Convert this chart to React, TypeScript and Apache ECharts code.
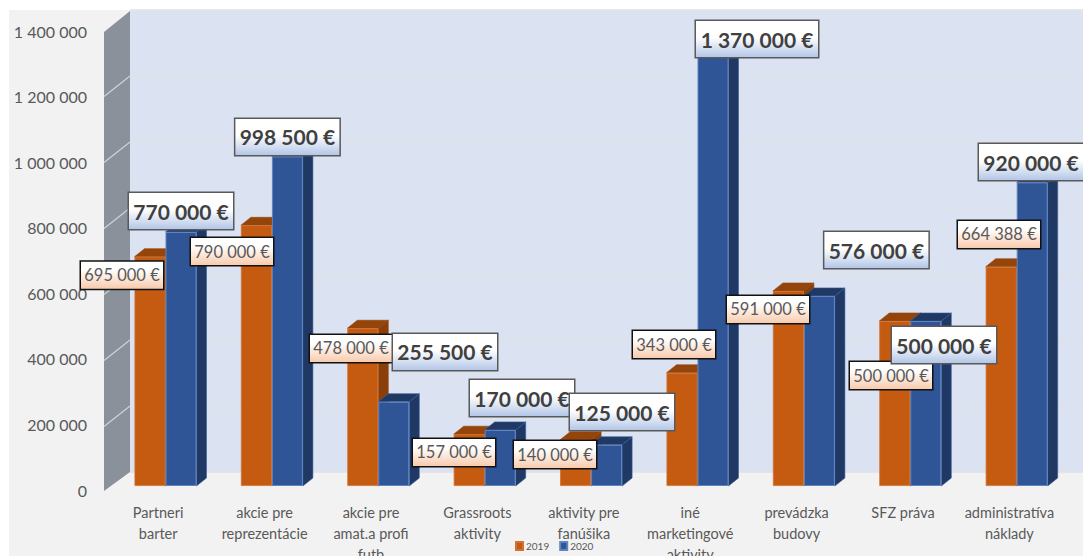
import React, { useEffect, useRef } from "react";
import * as echarts from "echarts";

const categories = [
  "Partneri\nbarter",
  "akcie pre\nreprezentácie",
  "akcie pre\namat.a profi\nfutb",
  "Grassroots\naktivity",
  "aktivity pre\nfanúšika",
  "iné\nmarketingové\naktivity",
  "prevádzka\nbudovy",
  "SFZ práva",
  "administratíva\nnáklady",
];
const values2019 = [695000, 790000, 478000, 157000, 140000, 343000, 591000, 500000, 664388];
const values2020 = [770000, 998500, 255500, 170000, 125000, 1370000, 576000, 500000, 920000];
const wallTicks = [200000, 400000, 600000, 800000, 1000000, 1200000];

// Hand-placed data label offsets, relative to the top of each bar
const offsets2019 = [[-28, 32], [-24.4, 39.7], [-11.8, 33.7], [-15.2, 31.8], [-20.6, 28.2], [-8, -14.8], [-20.4, 32], [-3.8, 68], [-2.2, -18.8]];
const offsets2020 = [[0, -2.9], [0, -1.5], [51.2, -31.7], [21.8, -13.9], [15.4, -14.75], [44, 23.1], [57, -27.9], [18.2, 42], [-1.2, -2.4]];

const FONT = "Lato";
const BAR_W = 31;
const DX = 10;
const DY = 8;

const euro = (v: number) => String(v).replace(/\B(?=(\d{3})+(?!\d))/g, " ") + " €";
const spaced = (v: number) => String(v).replace(/\B(?=(\d{3})+(?!\d))/g, " ");

const grad = (mid: number, end: string) =>
  new echarts.graphic.LinearGradient(0, 0, 0, 1, [
    { offset: 0, color: "#ffffff" },
    { offset: mid, color: "#ffffff" },
    { offset: 1, color: end },
  ]);

const extrude = (x0: number, x1: number, yTop: number, yBase: number, top: string, side: string, stroke: string) => ({
  type: "group",
  children: [
    {
      type: "polygon",
      shape: { points: [[x1, yBase], [x1 + DX, yBase - DY], [x1 + DX, yTop - DY], [x1, yTop]] },
      style: { fill: side, stroke, lineWidth: 0.6 },
    },
    {
      type: "polygon",
      shape: { points: [[x0, yTop], [x0 + DX, yTop - DY], [x1 + DX, yTop - DY], [x1, yTop]] },
      style: { fill: top, stroke, lineWidth: 0.6 },
    },
  ],
});

export default function App() {
  const ref = useRef<HTMLDivElement>(null);
  useEffect(() => {
    const chart = echarts.init(ref.current!, undefined, { renderer: "svg" });
    const cell = 106.4;
    const gridW = cell * 9;

    const hiddenCat = (gridIndex: number) => ({
      type: "category" as const,
      gridIndex,
      data: categories,
      show: false,
    });
    const hiddenVal = (gridIndex: number, extra: object = {}) => ({
      type: "value" as const,
      gridIndex,
      min: 0,
      max: 1400000,
      interval: 200000,
      axisLine: { show: false },
      axisTick: { show: false },
      axisLabel: { show: false },
      splitLine: { show: false },
      ...extra,
    });

    chart.setOption({
      animation: false,
      backgroundColor: "#ffffff",
      textStyle: { fontFamily: FONT },
      graphic: {
        elements: [
          { type: "rect", z: -3, shape: { x: 9, y: 10, width: 1074, height: 546 }, style: { fill: "#f2f2f2" } },
          { type: "rect", z: -2, shape: { x: 130, y: 11, width: 953, height: 461 }, style: { fill: "#dbe2f1" } },
          { type: "polygon", z: -2, shape: { points: [[104, 32], [130, 11], [130, 472], [104, 491]] }, style: { fill: "#8b919b" } },
        ],
      },
      legend: {
        data: ["2019", "2020"],
        left: 515,
        top: 541,
        padding: 0,
        itemWidth: 7,
        itemHeight: 8,
        itemGap: 10,
        icon: "rect",
        textStyle: { fontFamily: FONT, fontSize: 10, color: "#595959", padding: [0, 0, 0, -2] },
      },
      grid: [
        { left: 105, top: 31, width: gridW, height: 459, outerBoundsMode: "none" },
        { left: 112.3, top: 24, width: gridW, height: 462, outerBoundsMode: "none" },
        { left: 130, top: 10, width: 953, height: 462, outerBoundsMode: "none" },
      ],
      xAxis: [
        {
          type: "category",
          gridIndex: 0,
          data: categories,
          axisLine: { show: false },
          axisTick: { show: false },
          axisLabel: {
            interval: 0,
            margin: 12,
            fontFamily: FONT,
            fontSize: 14.5,
            lineHeight: 21,
            color: "#595959",
            verticalAlign: "top",
          },
        },
        hiddenCat(1),
        { type: "value", gridIndex: 2, min: 0, max: 1, show: false },
      ],
      yAxis: [
        hiddenVal(0, {
          axisLabel: {
            show: true,
            margin: 18,
            fontFamily: FONT,
            fontSize: 16,
            color: "#595959",
            formatter: (v: number) => spaced(v),
          },
        }),
        hiddenVal(1),
        hiddenVal(2, { splitLine: { show: true, lineStyle: { color: "#dfe0e3", width: 1.5 } } }),
      ],
      series: [
        {
          type: "custom",
          name: "side2019",
          xAxisIndex: 1,
          yAxisIndex: 1,
          z: 1,
          silent: true,
          clip: false,
          encode: { x: 0, y: 1 },
          data: values2019.map((v, i) => [i, v]),
          renderItem: (_: any, api: any) => {
            const [c, y] = api.coord([api.value(0), api.value(1)]);
            const [, y0] = api.coord([api.value(0), 0]);
            return extrude(c - BAR_W, c, y, y0, "#96450a", "#8a3f0b", "#96450a");
          },
        },
        {
          type: "custom",
          name: "side2020",
          xAxisIndex: 1,
          yAxisIndex: 1,
          z: 1.5,
          silent: true,
          clip: false,
          encode: { x: 0, y: 1 },
          data: values2020.map((v, i) => [i, v]),
          renderItem: (_: any, api: any) => {
            const [c, y] = api.coord([api.value(0), api.value(1)]);
            const [, y0] = api.coord([api.value(0), 0]);
            return extrude(c, c + BAR_W, y, y0, "#203864", "#1f3864", "#3a5c98");
          },
        },
        {
          type: "custom",
          name: "wallTicks",
          xAxisIndex: 2,
          yAxisIndex: 2,
          z: 0,
          silent: true,
          clip: false,
          encode: { x: 0, y: 1 },
          data: wallTicks.map((v) => [0, v]),
          renderItem: (_: any, api: any) => {
            const [x, y] = api.coord([0, api.value(1)]);
            return {
              type: "line",
              shape: { x1: x, y1: y, x2: x - 26, y2: y + 20.5 },
              style: { stroke: "#cfd2d8", lineWidth: 1.2 },
            };
          },
        },
        {
          type: "bar",
          name: "2019",
          xAxisIndex: 1,
          yAxisIndex: 1,
          z: 2,
          barWidth: BAR_W,
          barGap: "0%",
          itemStyle: { color: "#c55a11", borderColor: "#cf7433", borderWidth: 0.8 },
          label: {
            show: true,
            position: "top",
            distance: 0,
            fontFamily: FONT,
            fontSize: 16.5,
            lineHeight: 19,
            color: "#595959",
            width: 74,
            align: "center",
            padding: [4, 4],
            borderColor: "#111111",
            borderWidth: 1.5,
            backgroundColor: grad(0.3, "#f8cbad"),
            formatter: (p: any) => euro(p.value),
          },
          data: values2019.map((v, i) => ({ value: v, label: { offset: offsets2019[i] } })),
        },
        {
          type: "bar",
          name: "2020",
          xAxisIndex: 1,
          yAxisIndex: 1,
          z: 2,
          barWidth: BAR_W,
          barGap: "0%",
          itemStyle: { color: "#2f5597", borderColor: "#5f84c2", borderWidth: 1 },
          label: {
            show: true,
            position: "top",
            distance: 0,
            fontFamily: FONT,
            fontSize: 21,
            fontWeight: "bold",
            lineHeight: 28,
            color: "#404040",
            width: 96,
            align: "center",
            padding: [4, 4],
            borderColor: "#595959",
            borderWidth: 1.5,
            backgroundColor: grad(0.45, "#b4c7e7"),
            formatter: (p: any) => euro(p.value),
          },
          data: values2020.map((v, i) => ({
            value: v,
            label: { offset: offsets2020[i], width: v >= 1000000 ? 114 : 96 },
          })),
        },
      ],
    });
    return () => chart.dispose();
  }, []);
  return (
    <div
      ref={ref}
      style={{ position: "absolute", left: 0, top: 0, width: 1083, height: 556, overflow: "hidden" }}
    />
  );
}
